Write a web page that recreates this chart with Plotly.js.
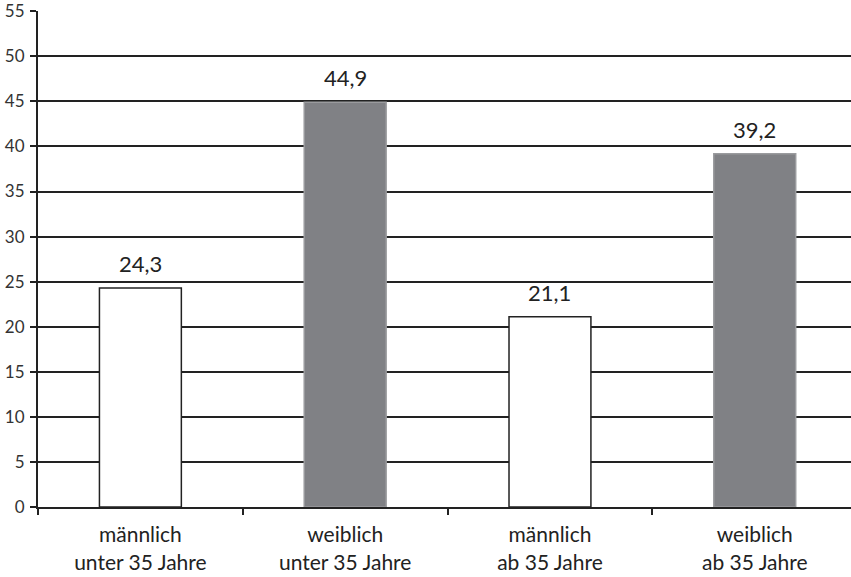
<!DOCTYPE html>
<html>
<head>
<meta charset="utf-8">
<script src="https://cdn.plot.ly/plotly-3.0.1.min.js"></script>
<style>html,body{margin:0;padding:0;background:#fff}#chart{width:851px;height:577px}</style>
</head>
<body>
<div id="chart"></div>
<script>
const categories = ["männlich<br>unter 35 Jahre", "weiblich<br>unter 35 Jahre", "männlich<br>ab 35 Jahre", "weiblich<br>ab 35 Jahre"];
const values = [24.3, 44.9, 21.1, 39.2];
const valueLabels = ["24,3", "44,9", "21,1", "39,2"];
const fillColors = ["#ffffff", "#808185", "#ffffff", "#808185"];
const lineColors = ["#222222", "#9a9b9e", "#222222", "#9a9b9e"];
const yTicks = [0, 5, 10, 15, 20, 25, 30, 35, 40, 45, 50, 55];

const font = "Lato, 'Open Sans', sans-serif";

Plotly.newPlot("chart", [{
  type: "bar",
  x: categories,
  y: values,
  marker: {color: fillColors, line: {color: lineColors, width: 1.5}},
  width: 0.4,
  hoverinfo: "none"
}], {
  width: 851, height: 577,
  margin: {l: 38, r: 0, t: 11, b: 70},
  paper_bgcolor: "#fff", plot_bgcolor: "#fff",
  showlegend: false,
  font: {family: font, color: "#222"},
  annotations: categories.map((c, i) => ({
    x: c, y: values[i], xref: "x", yref: "y",
    text: valueLabels[i], showarrow: false,
    yanchor: "bottom", yshift: 9,
    font: {family: font, size: 22, color: "#222"}
  })),
  xaxis: {
    type: "category",
    range: [-0.5, 3.47],
    tickson: "boundaries",
    ticks: "outside", ticklen: 6, tickwidth: 2, tickcolor: "#222",
    ticklabelstandoff: 8,
    showline: true, linecolor: "#222", linewidth: 2,
    showgrid: false,
    tickfont: {family: font, size: 21, color: "#222"},
    fixedrange: true
  },
  yaxis: {
    range: [0, 55.03],
    tickvals: yTicks,
    ticks: "outside", ticklen: 6, tickwidth: 2, tickcolor: "#222",
    ticklabelstandoff: 2,
    showline: true, linecolor: "#222", linewidth: 2,
    showgrid: true, gridcolor: "#222", gridwidth: 2,
    zeroline: false,
    tickfont: {family: font, size: 17, color: "#333"},
    fixedrange: true
  }
}, {displayModeBar: false, staticPlot: true});
</script>
</body>
</html>
